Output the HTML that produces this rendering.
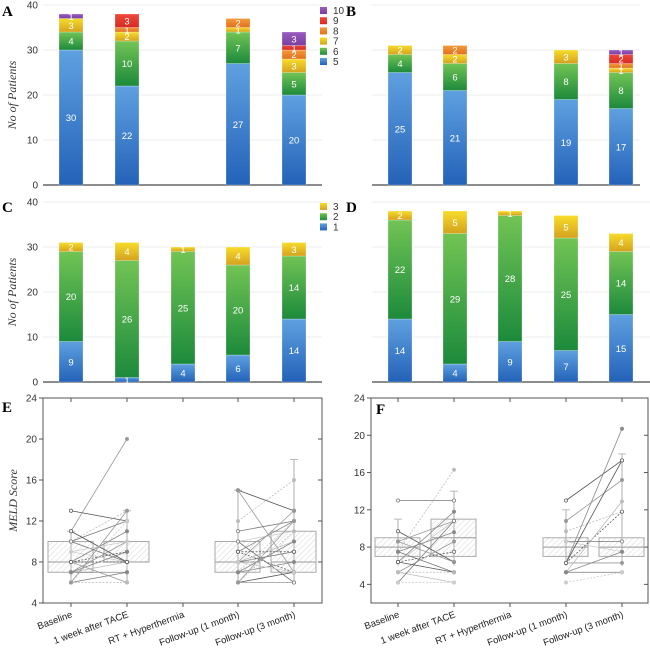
<!DOCTYPE html>
<html><head><meta charset="utf-8">
<style>
html,body{margin:0;padding:0;background:#fff;}
svg{display:block;font-family:"Liberation Sans",Arial,sans-serif;}
.pl{font-family:"Liberation Serif",serif;font-weight:bold;font-size:15px;}
.yt{font-family:"Liberation Serif",serif;font-style:italic;font-size:12px;fill:#333;}
.tk{font-size:10px;fill:#333;}
.bl{font-size:9.5px;fill:#fff;text-anchor:middle;}
.cat{font-size:9.5px;fill:#222;}
</style></head>
<body>
<svg id="fig" width="650" height="652" viewBox="0 0 650 652" xmlns="http://www.w3.org/2000/svg">
<defs>
<linearGradient id="g0" x1="0" y1="0" x2="0" y2="1"><stop offset="0" stop-color="#5fa0e0"/><stop offset="1" stop-color="#2462b8"/></linearGradient>
<linearGradient id="g1" x1="0" y1="0" x2="0" y2="1"><stop offset="0" stop-color="#72c454"/><stop offset="1" stop-color="#1c8a3c"/></linearGradient>
<linearGradient id="g2" x1="0" y1="0" x2="0" y2="1"><stop offset="0" stop-color="#f7dc2a"/><stop offset="1" stop-color="#d4a21e"/></linearGradient>
<linearGradient id="g3" x1="0" y1="0" x2="0" y2="1"><stop offset="0" stop-color="#f59a3a"/><stop offset="1" stop-color="#e0701e"/></linearGradient>
<linearGradient id="g4" x1="0" y1="0" x2="0" y2="1"><stop offset="0" stop-color="#f0483a"/><stop offset="1" stop-color="#d62a22"/></linearGradient>
<linearGradient id="g5" x1="0" y1="0" x2="0" y2="1"><stop offset="0" stop-color="#9a5cc0"/><stop offset="1" stop-color="#7a3ea0"/></linearGradient>
<pattern id="hatch" width="4" height="4" patternUnits="userSpaceOnUse" patternTransform="rotate(45)"><line x1="0" y1="0" x2="0" y2="4" stroke="#ccc" stroke-width="0.8"/></pattern>
</defs>
<text class="pl" x="2" y="16">A</text>
<text class="pl" x="346" y="16">B</text>
<text class="pl" x="2" y="212">C</text>
<text class="pl" x="346" y="212">D</text>
<text class="pl" x="2" y="412">E</text>
<text class="pl" x="376" y="414">F</text>
</svg>
<script>
// ---- bar chart data ----
const catA = ["Baseline","1 week after TACE","RT + Hyperthermia","Follow-up (1 month)","Follow-up (3 month)"];
const seriesMeldLevels = ["5","6","7","8","9","10"];
const barsA = [[30,4,3,0,0,1],[22,10,2,1,3,0],null,[27,7,1,2,0,0],[20,5,3,2,1,3]];
const barsB = [[25,4,2,0,0,0],[21,6,2,2,0,0],null,[19,8,3,0,0,0],[17,8,1,1,2,1]];
const seriesChild = ["1","2","3"];
const barsC = [[9,20,2],[1,26,4],[4,25,1],[6,20,4],[14,14,3]];
const barsD = [[14,22,2],[4,29,5],[9,28,1],[7,25,5],[15,14,4]];
const yTicksBar = [0,10,20,30,40];
// ---- MELD data (pairs) ----
const meldTicksE = [4,8,12,16,20,24];
const meldTicksF = [4,8,12,16,20,24];
const eBase1wk = [[13,12],[11,20],[10,13],[10,12],[9,8],[8,11],[8,9],[7,10],[7,8],[6,7],[6,12],[7,9],[11,8],[8,6],[6,6],[10,8],[9,10],[7,7],[8,8],[6,13]];
const eFu1Fu3 = [[15,13],[15,7],[12,16],[11,12],[10,11],[9,12],[9,7],[8,13],[8,10],[8,9],[7,12],[7,8],[6,7],[6,6],[6,11],[10,6],[8,7],[7,10],[9,9],[6,12]];
const fBase1wk = [[9.7,6.4],[8.6,10.8],[7.5,16.3],[7.5,5.3],[6.4,10.8],[6.4,11.8],[6.4,7.5],[5.3,8.6],[5.3,4.2],[4.2,10.8],[4.2,4.2],[7.5,9.6],[6.4,5.3],[8.6,6.4],[5.3,5.3],[13,13]];
const fFu1Fu3 = [[13,17.3],[10.8,15.2],[9.7,11.8],[8.6,8.6],[8.6,7.5],[6.3,20.7],[6.3,11.8],[6.3,6.3],[5.3,12.9],[5.3,5.3],[4.2,5.3],[5.3,7.5],[6.3,17.3]];
// box stats [q1, median, q3, whiskerLow, whiskerHigh]
const boxE = [[7,8,10,6,11],[8,8,10,6,13],null,[7,8,10,6,15],[7,8,11,6,18]];
const boxF = [[7,8,9,6,11],[7,9,11,6,14],null,[7,8,9,6,12],[7,8,9,6,18]];

const NS="http://www.w3.org/2000/svg";
const svg=document.getElementById('fig');
function mk(tag,attrs,parent){const e=document.createElementNS(NS,tag);for(const k in attrs)e.setAttribute(k,attrs[k]);(parent||svg).appendChild(e);return e;}

function barPanel(name,data,x0,x1,yTop,yBot,showTicks,yTitle,cx){
  const g=mk('g',{});
  
  
  const y=v=>yBot-(v/40)*(yBot-yTop);
  yTicksBar.forEach(t=>{
    const gl=mk('line',{x1:x0,x2:x1,y1:y(t),y2:y(t),stroke:t===0?'#666':'#eee','stroke-width':t===0?1.5:1},g);
    
    
    if(showTicks){
      const tl=mk('text',{class:'tk',x:x0-5,y:y(t)+3.5,'text-anchor':'end'},g);
      tl.textContent=t;
      
      
    }
  });
  if(yTitle){
    const yc=(yTop+yBot)/2;
    const tt=mk('text',{class:'yt',x:x0-27,y:yc,transform:`rotate(-90 ${x0-27} ${yc})`,'text-anchor':'middle'},g);
    tt.textContent='No of Patients';
    
    
  }
  data.forEach((stack,i)=>{
    if(!stack)return;
    let cum=0;
    stack.forEach((v,j)=>{
      if(v<=0)return;
      const yt=y(cum+v), yb=y(cum);
      const r=mk('rect',{x:cx[i]-12,y:yt,width:24,height:yb-yt,fill:`url(#g${j})`,stroke:'rgba(255,255,255,0.5)','stroke-width':0.5},g);
      
      
      const lb=mk('text',{class:'bl',x:cx[i],y:(yt+yb)/2+3.5},g);
      lb.textContent=v;
      
      
      cum+=v;
    });
  });
}
const cxL=[71,127,183,238,294], cxR=[400,455,510,566,621];
barPanel('chart-a',barsA,43,322,5,185,true,true,cxL);
barPanel('chart-b',barsB,372,640,5,185,false,false,cxR);
barPanel('chart-c',barsC,43,322,202,382,true,true,cxL);
barPanel('chart-d',barsD,372,650,202,382,false,false,cxR);

function legend(name,labels,x,y0,step){
  for(let j=labels.length-1;j>=0;j--){
    const yy=y0+(labels.length-1-j)*step;
    const r=mk('rect',{x:x,y:yy,width:7,height:7,fill:`url(#g${j})`});
    
    
    const t=mk('text',{class:'tk',x:x+13,y:yy+7});
    t.textContent=labels[j];
    
    
  }
}
legend('legend-a',seriesMeldLevels,320,7,10.2);
legend('legend-c',seriesChild,320,203,10.2);

function meldPanel(name,x0,x1,yTop,yBot,vTop,vBot,ticks,cx,pairs1,pairs2,boxes,title){
  const g=mk('g',{});
  
  
  const y=v=>yBot-(v-vBot)/(vTop-vBot)*(yBot-yTop);
  const fr=mk('rect',{x:x0,y:yTop,width:x1-x0,height:yBot-yTop,fill:'none',stroke:'#555','stroke-width':1},g);
  
  
  ticks.forEach(t=>{
    const tl=mk('line',{x1:x0-4,x2:x0,y1:y(t),y2:y(t),stroke:'#555'},g);
    
    
    const tr=mk('line',{x1:x1-4,x2:x1,y1:y(t),y2:y(t),stroke:'#555'},g);
    
    
    const tx=mk('text',{class:'tk',x:x0-6,y:y(t)+3.5,'text-anchor':'end'},g);
    tx.textContent=t;
    
    
  });
  catA.forEach((c,i)=>{
    const tk=mk('line',{x1:cx[i],x2:cx[i],y1:yBot,y2:yBot+4,stroke:'#555'},g);
    
    
    const tu=mk('line',{x1:cx[i],x2:cx[i],y1:yTop,y2:yTop+4,stroke:'#555'},g);
    
    
    const lx=cx[i]+2, ly=yBot+14;
    const t=mk('text',{class:'cat',x:lx,y:ly,'text-anchor':'end',transform:`rotate(-20 ${lx} ${ly})`},g);
    t.textContent=c;
    
    
  });
  boxes.forEach((b,i)=>{
    if(!b)return;
    const bx=cx[i]-23;
    const w1=mk('line',{x1:cx[i],x2:cx[i],y1:y(b[3]),y2:y(b[4]),stroke:'#bbb','stroke-width':1.2},g);
    
    
    const cap=mk('line',{x1:cx[i]-4,x2:cx[i]+4,y1:y(b[4]),y2:y(b[4]),stroke:'#bbb'},g);
    
    
    const r=mk('rect',{x:bx,y:y(b[2]),width:45,height:y(b[0])-y(b[2]),fill:'url(#hatch)',stroke:'#aaa','stroke-width':1},g);
    
    
    const m=mk('line',{x1:bx,x2:bx+45,y1:y(b[1]),y2:y(b[1]),stroke:'#999','stroke-width':1},g);
    
    
  });
  const greys=['#555','#999','#bbb','#777','#ccc','#888'];
  [[pairs1,0,1],[pairs2,3,4]].forEach(([ps,a,b2])=>{
    ps.forEach((p,k)=>{
      const col=greys[k%greys.length];
      const l=mk('line',{x1:cx[a],y1:y(p[0]),x2:cx[b2],y2:y(p[1]),stroke:col,'stroke-width':0.8,'stroke-dasharray':k%4===2?'2,1.5':'none'},g);
      
      
      [[a,p[0]],[b2,p[1]]].forEach(([ci,v])=>{
        const c=mk('circle',{cx:cx[ci],cy:y(v),r:1.6,fill:k%3===0?'#fff':col,stroke:col,'stroke-width':0.7},g);
        
        
      });
    });
  });
  if(title){
    const yc=(yTop+yBot)/2;
    const tt=mk('text',{class:'yt',x:x0-26,y:yc,transform:`rotate(-90 ${x0-26} ${yc})`,'text-anchor':'middle'},g);
    tt.textContent='MELD Score';
    
    
  }
}
meldPanel('chart-e',43,322,398,603,24,4,meldTicksE,cxL,eBase1wk,eFu1Fu3,boxE,true);
meldPanel('chart-f',371,648,398,603,24,2,meldTicksF,[398,454,510,566,622],fBase1wk,fFu1Fu3,boxF,false);
</script>
</body></html>
